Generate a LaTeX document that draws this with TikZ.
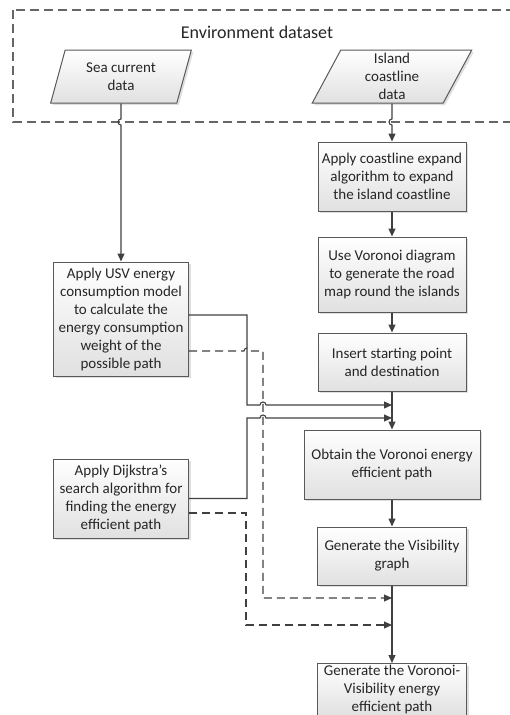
\documentclass[tikz,border=0pt]{standalone}
\usepackage{fontspec}
\setmainfont{Carlito}
\usetikzlibrary{shapes.geometric,shadows,arrows.meta}

\tikzset{
  stepbox/.style={draw=black!65, line width=1pt, top color=white, bottom color=black!12,
    drop shadow={shadow xshift=2pt, shadow yshift=-2pt, opacity=.25},
    align=center, inner sep=2pt, text=black!85, font=\fontsize{15}{18}\selectfont},
  databox/.style={stepbox, trapezium, trapezium stretches=true, inner sep=0pt,
    trapezium left angle=72, trapezium right angle=108},
  flow/.style={draw=black!75, line width=1.1pt, -{Triangle[length=8pt,width=7pt]}},
  feed/.style={flow, dash pattern=on 8pt off 5pt},
  envframe/.style={draw=black!60, line width=1.1pt, dash pattern=on 9pt off 5pt},
}

\begin{document}
\begin{tikzpicture}[x=1pt,y=-1pt]
        \useasboundingbox (0,0) rectangle (509,715);

        % Environment dataset frame (runs off the right edge)
        \draw[envframe] (13,10) rectangle (530,122);
        \node[text=black!85, font=\fontsize{18}{21}\selectfont] (envtitle) at (257,32) {Environment dataset};

        % Input data
        \node[databox, minimum width=142pt, minimum height=53pt] (sea) at (121,76.5) {Sea current\\data};
        \node[databox, minimum width=160pt, minimum height=53pt] (isl) at (392,76.5) {Island\\coastline\\data};

        % Road map branch (right column)
        \node[stepbox, minimum width=148pt, minimum height=69pt] (expand) at (392,176.5) {Apply coastline expand\\algorithm to expand\\the island coastline};
        \node[stepbox, minimum width=148pt, minimum height=75pt] (voronoi) at (392,274.5) {Use Voronoi diagram\\to generate the road\\map round the islands};
        \node[stepbox, minimum width=148pt, minimum height=58pt] (insert) at (392,362) {Insert starting point\\and destination};
        \node[stepbox, minimum width=176pt, minimum height=69pt] (vpath) at (392,464.5) {Obtain the Voronoi energy\\efficient path};
        \node[stepbox, minimum width=149pt, minimum height=58pt] (visgraph) at (392,556) {Generate the Visibility\\graph};
        \node[stepbox, minimum width=149pt, anchor=north] (vvpath) at (392,663) {Generate the Voronoi-\\Visibility energy\\efficient path};

        % Energy branch (left column)
        \node[stepbox, minimum width=135pt, minimum height=114pt] (usv) at (121,319) {Apply USV energy\\consumption model\\to calculate the\\energy consumption\\weight of the\\possible path};
        \node[stepbox, minimum width=135pt, minimum height=79pt] (dijk) at (121,498.5) {Apply Dijkstra’s\\search algorithm for\\finding the energy\\efficient path};

        % Merge points on the main line
        \coordinate (in1) at (392,405);
        \coordinate (in2) at (392,418);
        \coordinate (in3) at (392,598);
        \coordinate (in4) at (392,625);

        % Data leaving the frame (hop over the dashed border)
        \draw[flow] (sea.south) -- (121,119) arc[start angle=90, end angle=270, radius=3pt] -- (usv.north);
        \draw[flow] (isl.south) -- (392,119) arc[start angle=90, end angle=270, radius=3pt] -- (expand.north);

        % Main line
        \draw[flow] (expand) -- (voronoi);
        \draw[flow] (voronoi) -- (insert);
        \draw[flow] (insert) -- (vpath);
        \draw[flow] (vpath) -- (visgraph);
        \draw[flow] (visgraph) -- (vvpath);

        % Weights and search into the Voronoi path
        \draw[flow] ([yshift=4pt]usv.east) -| (247,405) -- (260,405) arc[start angle=180, end angle=0, radius=3pt] -- (in1);
        \draw[flow] (dijk.east) -| (247,418) -- (260,418) arc[start angle=180, end angle=0, radius=3pt] -- (in2);

        % Same inputs reused for the final path
        \draw[feed] ([yshift=-32pt]usv.east) -- (244,351) arc[start angle=180, end angle=0, radius=3pt] -- (263,351) -- (263,598) -- (in3);
        \draw[feed] ([yshift=-14.5pt]dijk.east) -| (246,625) -- (in4);

\end{tikzpicture}
\end{document}
